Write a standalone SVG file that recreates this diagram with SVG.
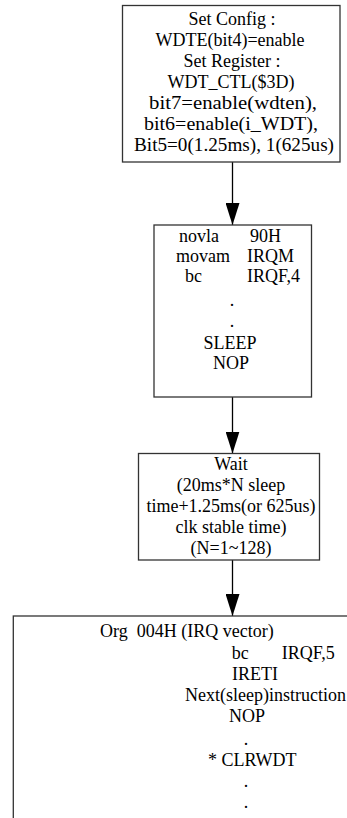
<svg xmlns="http://www.w3.org/2000/svg" width="347" height="818" viewBox="0 0 347 818">
<defs>
<style>
.box{fill:#fff;stroke:#333;stroke-width:1.3}
.t{font-family:"Liberation Serif","Times New Roman",serif;font-size:18px;fill:#000}
.m{text-anchor:middle}
.c{stroke:#000;stroke-width:1.3;fill:none}
</style>
<marker id="ah" markerUnits="userSpaceOnUse" markerWidth="22" markerHeight="14" refX="22" refY="7" orient="auto" viewBox="0 0 22 14">
<polygon points="0,0 22,7 0,14" fill="#000"/>
</marker>
</defs>
<rect width="347" height="818" fill="#fff"/>
<g id="connectors">
<line class="c" x1="232.5" y1="162" x2="232.5" y2="225" marker-end="url(#ah)"/>
<line class="c" x1="232.5" y1="397" x2="232.5" y2="453.5" marker-end="url(#ah)"/>
<line class="c" x1="232.5" y1="560" x2="232.5" y2="616" marker-end="url(#ah)"/>
</g>
<g id="config">
<rect class="box" x="122.5" y="5.5" width="217.5" height="156.5"/>
<text class="t m" x="232" y="25">Set Config :</text>
<text class="t m" x="230" y="46">WDTE(bit4)=enable</text>
<text class="t m" x="232" y="67">Set Register :</text>
<text class="t m" x="231" y="88">WDT_CTL($3D)</text>
<text class="t m" x="233" y="109" textLength="168" lengthAdjust="spacingAndGlyphs">bit7=enable(wdten),</text>
<text class="t m" x="231" y="130" textLength="174" lengthAdjust="spacingAndGlyphs">bit6=enable(i_WDT),</text>
<text class="t m" x="234" y="151" textLength="200" lengthAdjust="spacingAndGlyphs">Bit5=0(1.25ms), 1(625us)</text>
</g>
<g id="code">
<rect class="box" x="154" y="225" width="157.5" height="172"/>
<text class="t" x="179" y="242">novla</text>
<text class="t" x="250" y="242">90H</text>
<text class="t" x="176" y="262">movam</text>
<text class="t" x="247" y="262">IRQM</text>
<text class="t" x="185" y="282">bc</text>
<text class="t" x="247" y="282">IRQF,4</text>
<text class="t m" x="232" y="306">.</text>
<text class="t m" x="232" y="327">.</text>
<text class="t m" x="230" y="348.5">SLEEP</text>
<text class="t m" x="231" y="368.5">NOP</text>
</g>
<g id="wait">
<rect class="box" x="138.5" y="453.5" width="181" height="106.5"/>
<text class="t m" x="231" y="469.5">Wait</text>
<text class="t m" x="231" y="491">(20ms*N sleep</text>
<text class="t m" x="231" y="512">time+1.25ms(or 625us)</text>
<text class="t m" x="231" y="533">clk stable time)</text>
<text class="t m" x="231" y="553.5">(N=1~128)</text>
</g>
<g id="irq">
<rect class="box" x="13.3" y="616" width="460" height="230"/>
<text class="t" x="100" y="637" xml:space="preserve">Org  004H (IRQ vector)</text>
<text class="t" x="231.7" y="658.5">bc</text>
<text class="t" x="281.7" y="658.5">IRQF,5</text>
<text class="t" x="232" y="679.8">IRETI</text>
<text class="t" x="185" y="701">Next(sleep)instruction</text>
<text class="t" x="229" y="722.3">NOP</text>
<text class="t m" x="246" y="745">.</text>
<text class="t" x="208" y="766">* CLRWDT</text>
<text class="t m" x="246" y="787">.</text>
<text class="t m" x="246" y="808">.</text>
</g>
</svg>
